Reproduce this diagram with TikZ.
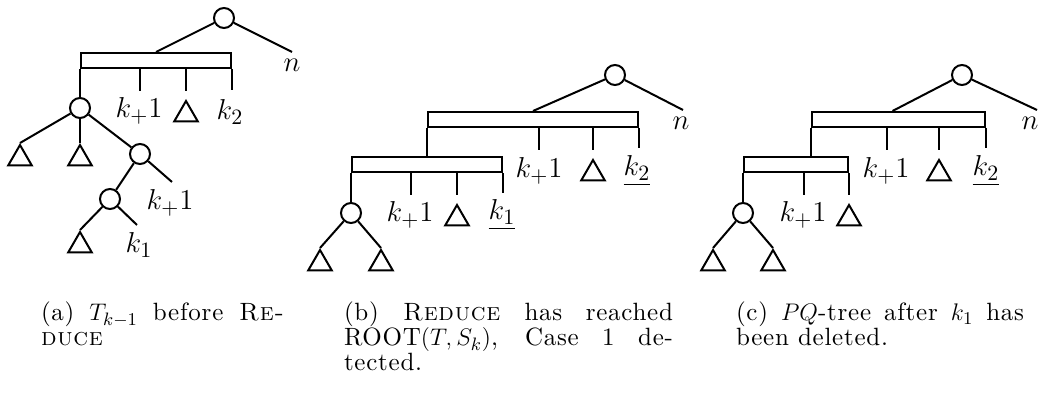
\documentclass[tikz,border=0pt]{standalone}
\usepackage{amsmath,amssymb}
\usepackage{fontspec}
\usepackage{tikz}
\usetikzlibrary{positioning,shapes.geometric}
\newfontfamily\captfont{lmroman10-regular.otf}[LetterSpace=3,SmallCapsFont=lmromancaps10-regular.otf,SmallCapsFeatures={LetterSpace=3}]

\begin{document}
\begin{tikzpicture}[x=0.5pt,y=-0.5pt,line width=1pt,
    pnode/.style={circle,draw,minimum size=10pt,inner sep=0pt},
    qnode/.style={rectangle,draw,minimum height=7.5pt,inner sep=0pt},
    leaf/.style={regular polygon,regular polygon sides=3,draw,minimum size=13.6pt,inner sep=0pt,anchor=north},
    lab/.style={inner sep=0pt,anchor=base,font=\fontsize{15}{18}\selectfont},
    capt/.style={anchor=north west,inner sep=0pt,align=justify,font=\captfont\fontsize{12.5}{12.5}\selectfont}]
    \useasboundingbox (0,0) rectangle (1042,394);

    % (a) T_{k-1} before Reduce
    \node[pnode] (pa) at (224,18) {};
    \node[qnode,minimum width=75pt] (qa) at (156,60.5) {};
    \draw (pa) -- (qa.north);
    \coordinate (ena) at (292,52);
    \draw (pa) -- (ena);
    \node[lab] (na) at (292,72) {$n$};
    % children of the Q-node
    \node[pnode] (ca) at (80,108) {};
    \draw (qa.south west) -- (ca);
    \coordinate (ea1) at (140,91);
    \draw (qa.south -| ea1) -- (ea1);
    \node[lab] (ka1) at (139,118) {$k_{+}1$};
    \coordinate (ea2) at (186,91);
    \draw (qa.south -| ea2) -- (ea2);
    \node[leaf] (ta1) at (186,99) {};
    \coordinate (ea3) at (232,90);
    \draw (qa.south east) -- (ea3);
    \node[lab] (ka2) at (230,120) {$k_2$};
    % lower P-nodes
    \node[leaf] (ta2) at (20,143) {};
    \node[leaf] (ta3) at (80,143) {};
    \node[pnode] (cb) at (140,154) {};
    \draw (ca) -- (ta2.north);
    \draw (ca) -- (ta3.north);
    \draw (ca) -- (cb);
    \node[pnode] (cc) at (110,199) {};
    \draw (cb) -- (cc);
    \coordinate (ea4) at (172,182);
    \draw (cb) -- (ea4);
    \node[lab] (ka3) at (170,210) {$k_{+}1$};
    \node[leaf] (ta4) at (80,230) {};
    \draw (cc) -- (ta4.north);
    \coordinate (ea5) at (137,225);
    \draw (cc) -- (ea5);
    \node[lab] (ka4) at (139,253) {$k_1$};

    % (b) Reduce has reached ROOT(T,S_k)
    \node[pnode] (pb) at (615,75) {};
    \node[qnode,minimum width=105pt] (qb) at (533,119.5) {};
    \draw (pb) -- (qb.north);
    \coordinate (enb) at (683,110);
    \draw (pb) -- (enb);
    \node[lab] (nb) at (681,130) {$n$};
    \node[qnode,minimum width=75pt] (qc) at (427,165) {};
    \draw (qb.south west) -- (qc.north);
    \coordinate (eb1) at (539,150);
    \draw (qb.south -| eb1) -- (eb1);
    \node[lab] (kb1) at (539,178) {$k_{+}1$};
    \coordinate (eb2) at (593,150);
    \draw (qb.south -| eb2) -- (eb2);
    \node[leaf] (tb1) at (593,158) {};
    \coordinate (eb3) at (639,148);
    \draw (qb.south east) -- (eb3);
    \node[lab] (kb2) at (637,176) {$\underline{k_2}$};
    % inner Q-node
    \node[pnode] (cd) at (351,213) {};
    \draw (qc.south west) -- (cd);
    \coordinate (eb4) at (411,195);
    \draw (qc.south -| eb4) -- (eb4);
    \node[lab] (kb3) at (410,222) {$k_{+}1$};
    \coordinate (eb5) at (457,195);
    \draw (qc.south -| eb5) -- (eb5);
    \node[leaf] (tb2) at (457,203) {};
    \coordinate (eb6) at (503,193);
    \draw (qc.south east) -- (eb6);
    \node[lab] (kb4) at (502,220) {$\underline{k_1}$};
    \node[leaf] (tb3) at (320,248) {};
    \node[leaf] (tb4) at (381,248) {};
    \draw (cd) -- (tb3.north);
    \draw (cd) -- (tb4.north);

    % (c) after k_1 has been deleted
    \node[pnode] (pc) at (962,75) {};
    \node[qnode,minimum width=86.5pt] (qd) at (898.5,119.5) {};
    \draw (pc) -- ([xshift=-3pt]qd.north);
    \coordinate (enc) at (1037,110);
    \draw (pc) -- (enc);
    \node[lab] (nc) at (1030,130) {$n$};
    \node[qnode,minimum width=52pt] (qe) at (796,165) {};
    \draw (qd.south west) -- (qd.south west |- qe.north);
    \coordinate (ec1) at (887,150);
    \draw (qd.south -| ec1) -- (ec1);
    \node[lab] (kc1) at (886,178) {$k_{+}1$};
    \coordinate (ec2) at (939,150);
    \draw (qd.south -| ec2) -- (ec2);
    \node[leaf] (tc1) at (939,158) {};
    \coordinate (ec3) at (986,148);
    \draw (qd.south east) -- (ec3);
    \node[lab] (kc2) at (986,176) {$\underline{k_2}$};
    % inner Q-node
    \node[pnode] (ce) at (743,213) {};
    \draw (qe.south west) -- (ce);
    \coordinate (ec4) at (804,195);
    \draw (qe.south -| ec4) -- (ec4);
    \node[lab] (kc3) at (803,222) {$k_{+}1$};
    \coordinate (ec5) at (849,195);
    \draw (qe.south east) -- (ec5);
    \node[leaf] (tc2) at (849,203) {};
    \node[leaf] (tc3) at (713,248) {};
    \node[leaf] (tc4) at (773,248) {};
    \draw (ce) -- (tc3.north);
    \draw (ce) -- (tc4.north);

    % Captions
    \node[capt,text width=121.5pt] (capa) at (40,301.25)
      {(a) $T_{k-1}$ before \textsc{Re-}\linebreak \textsc{duce}};
    \node[capt,text width=164.5pt] (capb) at (343,301.25)
      {(b) \textsc{Reduce} has reached\linebreak ROOT$(T,S_k)$, Case 1 de-\linebreak tected.};
    \node[capt,text width=144pt] (capc) at (735,301.25)
      {(c) $PQ$-tree after $k_1$ has\linebreak been deleted.};
\end{tikzpicture}
\end{document}
